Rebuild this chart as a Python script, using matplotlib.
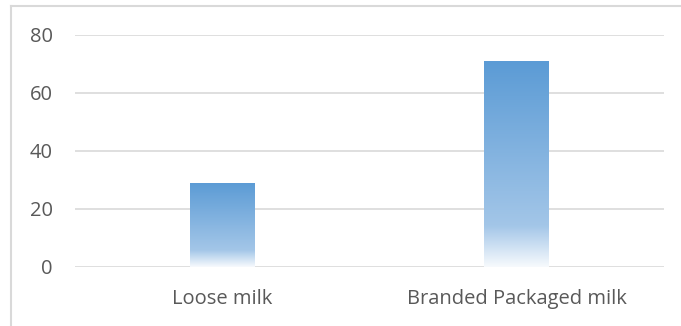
import matplotlib
matplotlib.use("Agg")
import matplotlib.pyplot as plt
from matplotlib.colors import LinearSegmentedColormap
from matplotlib.lines import Line2D
import numpy as np

categories = ["Loose milk", "Branded Packaged milk"]
values = [29, 71]
yticks = [0, 20, 40, 60, 80]

plt.rcParams["font.family"] = ["Open Sans", "DejaVu Sans"]

fig = plt.figure(figsize=(6.81, 3.26), dpi=100)
ax = fig.add_axes([75 / 681, 1 - 267 / 326, 589 / 681, 232 / 326])

# blue fading to white towards the base of each bar
grad = LinearSegmentedColormap.from_list(
    "fade", [(0.0, "#f7fafd"), (0.2, "#a3c6e8"), (1.0, "#5b9bd5")])

x = np.arange(len(categories))
width = 0.22
bars = ax.bar(x, values, width=width, color="none", edgecolor="none", zorder=3)
g = np.linspace(0, 1, 256).reshape(-1, 1)
for b in bars:
    x0, y0 = b.get_x(), b.get_y()
    im = ax.imshow(g, cmap=grad, origin="lower", aspect="auto", zorder=3,
                   extent=[x0, x0 + b.get_width(), y0, y0 + b.get_height()])
    im.set_clip_path(b)

ax.set_xlim(-0.5, len(categories) - 0.5)
ax.set_ylim(0, 80)
ax.set_yticks(yticks)
ax.set_xticks(x)
ax.set_xticklabels(categories)
ax.yaxis.grid(True, color="#d9d9d9", linewidth=1.2, zorder=0)
ax.set_axisbelow(True)
for s in ax.spines.values():
    s.set_visible(False)
ax.tick_params(length=0, colors="#595959", labelsize=14.5)
ax.tick_params(axis="y", pad=16)
ax.tick_params(axis="x", pad=16)

# chart area border
fig.add_artist(Line2D([11 / 681, 11 / 681], [0, 1 - 6 / 326],
                      color="#d9d9d9", linewidth=1.5))
fig.add_artist(Line2D([11 / 681, 1], [1 - 6 / 326, 1 - 6 / 326],
                      color="#d9d9d9", linewidth=1.5))

fig.savefig("out.png", dpi=100)
